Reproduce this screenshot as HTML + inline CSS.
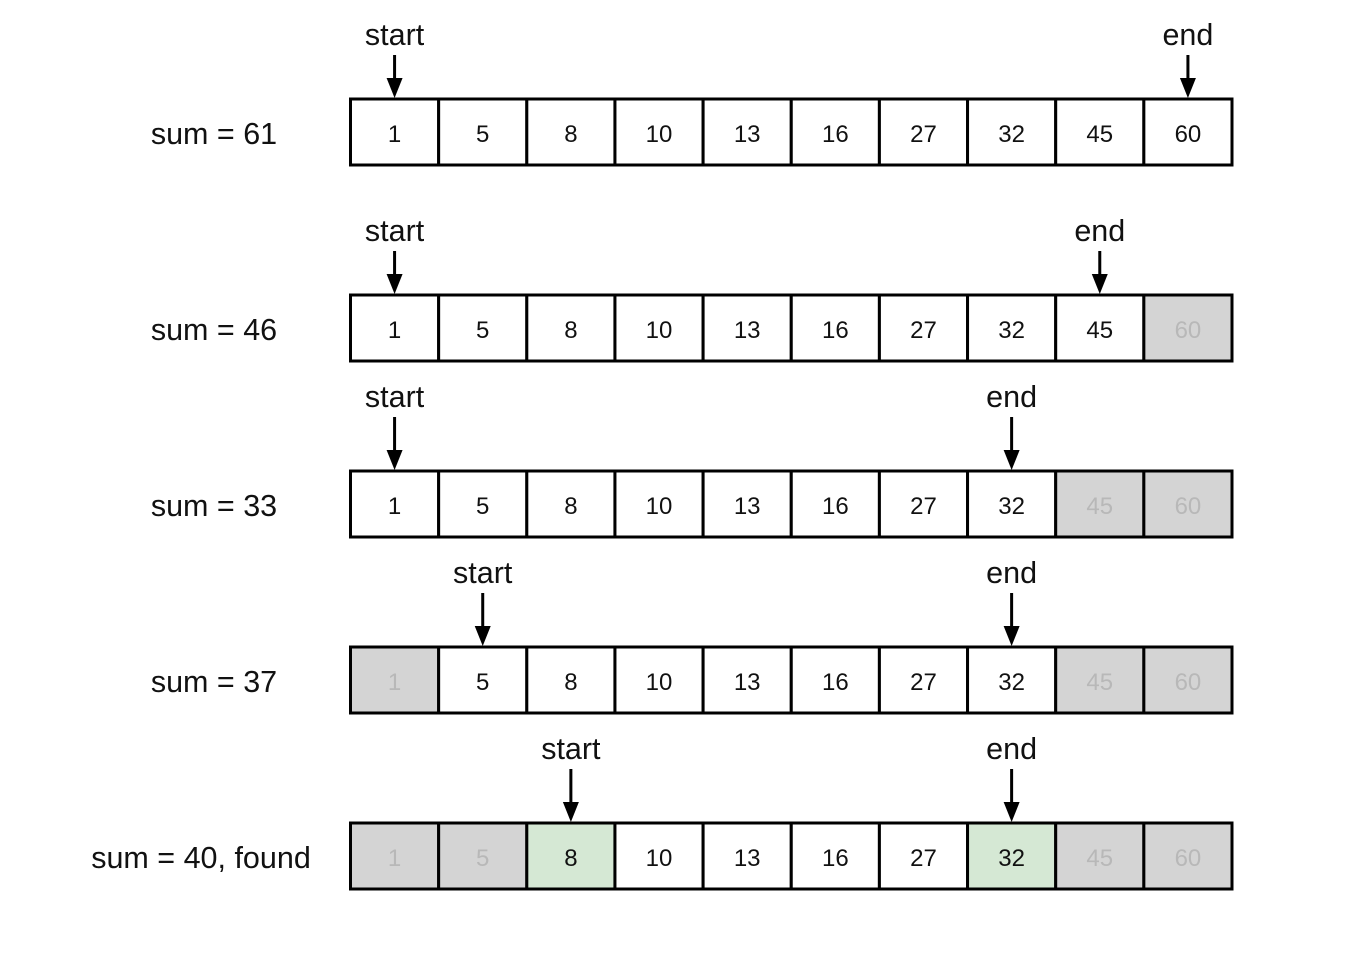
<!DOCTYPE html>
<html><head><meta charset="utf-8"><style>
html,body{margin:0;padding:0;background:#fff;}
svg text{font-family:"Liberation Sans",Arial,sans-serif;}
</style></head><body>
<svg width="1366" height="970" viewBox="0 0 1366 970" xmlns="http://www.w3.org/2000/svg">
<g id="rows"></g>
<script>
<![CDATA[
var vals=[1,5,8,10,13,16,27,32,45,60];
var rows=[
 {y:99,lab:"sum = 61",lx:214,s:0,e:9,gray:[],green:[],ext:0},
 {y:295,lab:"sum = 46",lx:214,s:0,e:8,gray:[9],green:[],ext:0},
 {y:471,lab:"sum = 33",lx:214,s:0,e:7,gray:[8,9],green:[],ext:10},
 {y:647,lab:"sum = 37",lx:214,s:1,e:7,gray:[0,8,9],green:[],ext:10},
 {y:823,lab:"sum = 40, found",lx:201,s:2,e:7,gray:[0,1,8,9],green:[2,7],ext:10}
];
var ns="http://www.w3.org/2000/svg",g=document.getElementById("rows");
function el(t,a,txt){var e=document.createElementNS(ns,t);for(var k in a)e.setAttribute(k,a[k]);if(txt!=null)e.textContent=txt;g.appendChild(e);return e;}
var x0=350.5,w=88.15,h=66;
rows.forEach(function(r){
 el("text",{x:r.lx,y:r.y+45,"font-size":30.5,"text-anchor":"middle",fill:"#111"},r.lab);
 for(var i=0;i<10;i++){
  var fill="#fff",tc="#111";
  if(r.gray.indexOf(i)>=0){fill="#d4d4d4";tc="#b8b8b8";}
  if(r.green.indexOf(i)>=0){fill="#d5e8d4";}
  el("rect",{x:x0+i*w,y:r.y,width:w,height:h,fill:fill,stroke:"#000","stroke-width":3});
  el("text",{x:x0+i*w+w/2,y:r.y+43,"font-size":24,"text-anchor":"middle",fill:tc},String(vals[i]));
 }
 [[r.s,"start"],[r.e,"end"]].forEach(function(p){
  var cx=x0+p[0]*w+w/2;
  el("text",{x:cx,y:r.y-54-r.ext,"font-size":30.5,"text-anchor":"middle",fill:"#111"},p[1]);
  el("line",{x1:cx,y1:r.y-44-r.ext,x2:cx,y2:r.y-16,stroke:"#000","stroke-width":3});
  el("polygon",{points:(cx-8)+","+(r.y-21)+" "+(cx+8)+","+(r.y-21)+" "+cx+","+(r.y-1),fill:"#000"});
 });
});
]]>
</script>
</svg>
</body></html>
